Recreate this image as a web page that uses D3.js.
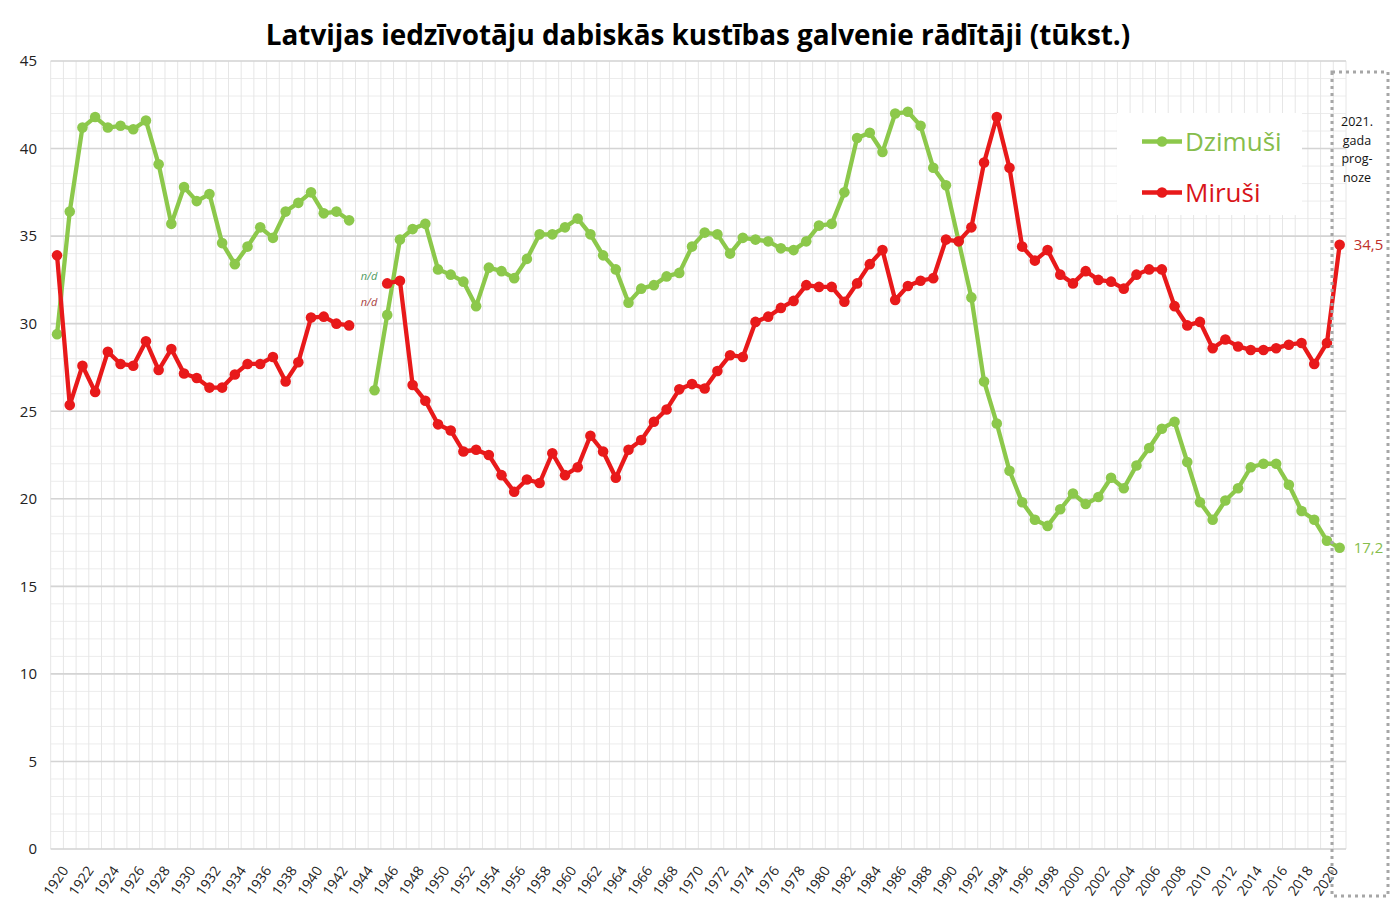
<!DOCTYPE html>
<html>
<head>
<meta charset="utf-8">
<script src="https://cdn.jsdelivr.net/npm/d3@7"></script>
<style>
  body { margin: 0; background: #fff; }
  text { font-family: "Open Sans", "Noto Sans", sans-serif; }
</style>
</head>
<body>
<div class="chart"></div>
<script>
// years 1920 - 2021
var years = d3.range(1920, 2022);

// Dzimuši (tūkst.)
var births = [
  29.4, 36.4, 41.2, 41.8, 41.2, 41.3, 41.1, 41.6, 39.1, 35.7,   // 1920-1929
  37.8, 37.0, 37.4, 34.6, 33.4, 34.4, 35.5, 34.9, 36.4, 36.9,   // 1930-1939
  37.5, 36.3, 36.4, 35.9, null, 26.2, 30.5, 34.8, 35.4, 35.7,   // 1940-1949
  33.1, 32.8, 32.4, 31.0, 33.2, 33.0, 32.6, 33.7, 35.1, 35.1,   // 1950-1959
  35.5, 36.0, 35.1, 33.9, 33.1, 31.2, 32.0, 32.2, 32.7, 32.9,   // 1960-1969
  34.4, 35.2, 35.1, 34.0, 34.9, 34.8, 34.7, 34.3, 34.2, 34.7,   // 1970-1979
  35.6, 35.7, 37.5, 40.6, 40.9, 39.8, 42.0, 42.1, 41.3, 38.9,   // 1980-1989
  37.9, 34.7, 31.5, 26.7, 24.3, 21.6, 19.8, 18.8, 18.45, 19.4,  // 1990-1999
  20.3, 19.7, 20.1, 21.2, 20.6, 21.9, 22.9, 24.0, 24.4, 22.1,   // 2000-2009
  19.8, 18.8, 19.9, 20.6, 21.8, 22.0, 22.0, 20.8, 19.3, 18.8,   // 2010-2019
  17.6, 17.2                                                     // 2020-2021
];

// Miruši (tūkst.)
var deaths = [
  33.9, 25.35, 27.6, 26.1, 28.4, 27.7, 27.6, 29.0, 27.35, 28.55, // 1920-1929
  27.15, 26.9, 26.35, 26.35, 27.1, 27.7, 27.7, 28.1, 26.7, 27.8, // 1930-1939
  30.35, 30.4, 30.0, 29.9, null, null, 32.3, 32.45, 26.5, 25.6,  // 1940-1949
  24.25, 23.9, 22.7, 22.8, 22.5, 21.35, 20.4, 21.1, 20.9, 22.6,  // 1950-1959
  21.35, 21.8, 23.6, 22.7, 21.2, 22.8, 23.35, 24.4, 25.1, 26.25, // 1960-1969
  26.55, 26.3, 27.3, 28.2, 28.1, 30.1, 30.4, 30.9, 31.3, 32.2,   // 1970-1979
  32.1, 32.1, 31.25, 32.3, 33.4, 34.2, 31.35, 32.15, 32.45, 32.6,// 1980-1989
  34.8, 34.7, 35.5, 39.2, 41.8, 38.9, 34.4, 33.6, 34.2, 32.8,    // 1990-1999
  32.3, 33.0, 32.5, 32.4, 32.0, 32.8, 33.1, 33.1, 31.0, 29.9,    // 2000-2009
  30.1, 28.6, 29.1, 28.7, 28.5, 28.5, 28.6, 28.8, 28.9, 27.7,    // 2010-2019
  28.9, 34.5                                                      // 2020-2021
];

var yTicks = [0, 5, 10, 15, 20, 25, 30, 35, 40, 45];
var xTickYears = d3.range(1920, 2021, 2);
var seriesNames = ["Dzimuši", "Miruši"];
var forecastLines = ["2021.", "gada", "prog-", "noze"];

var greenColor = "#8cc84b",
    redColor = "#e8191a";

var width = 1400, height = 907;

var svg = d3.select(".chart")
  .append("svg")
  .attr("width", width)
  .attr("height", height);

var x = d3.scaleLinear()
  .domain([1919.5, 2021.5])
  .range([50.7, 1346]);

var y = d3.scaleLinear()
  .domain([0, 45])
  .range([849, 61]);

// grid: minor horizontal, vertical between categories, then major horizontal
var grid = svg.append("g");
grid.selectAll(".hminor")
  .data(d3.range(0, 46, 1))
  .enter().append("line")
  .attr("x1", x(1919.5)).attr("x2", x(2021.5))
  .attr("y1", d => y(d)).attr("y2", d => y(d))
  .attr("stroke", "#ececec").attr("stroke-width", 1);

grid.selectAll(".vline")
  .data(d3.range(1919.5, 2022, 1))
  .enter().append("line")
  .attr("x1", d => x(d)).attr("x2", d => x(d))
  .attr("y1", y(45)).attr("y2", y(0))
  .attr("stroke", "#e6e6e6").attr("stroke-width", 1);

grid.selectAll(".hmajor")
  .data(yTicks)
  .enter().append("line")
  .attr("x1", x(1919.5)).attr("x2", x(2021.5))
  .attr("y1", d => y(d)).attr("y2", d => y(d))
  .attr("stroke", "#d4d4d4").attr("stroke-width", 1.6);

// y axis labels
var yAxis = svg.append("g")
  .attr("transform", "translate(37,0)")
  .call(d3.axisLeft(y).tickValues(yTicks).tickSize(0).tickPadding(0));
yAxis.select(".domain").remove();
yAxis.selectAll("text")
  .style("font-size", "15px")
  .style("fill", "#222");

// x axis labels, rotated
var xAxis = svg.append("g")
  .attr("transform", "translate(0," + 858 + ")")
  .call(d3.axisBottom(x).tickValues(xTickYears).tickSize(0).tickFormat(d3.format("d")));
xAxis.select(".domain").remove();
xAxis.selectAll("text")
  .attr("text-anchor", "end")
  .attr("dy", "0.35em")
  .attr("transform", "translate(5,8) rotate(-55)")
  .style("font-size", "14px")
  .style("fill", "#222");

// lines + markers
var line = d3.line()
  .defined(d => d.v != null)
  .x(d => x(d.year))
  .y(d => y(d.v));

function drawSeries(values, color) {
  var data = years.map((yr, i) => ({year: yr, v: values[i]}));
  svg.append("path")
    .datum(data)
    .attr("d", line)
    .attr("fill", "none")
    .attr("stroke", color)
    .attr("stroke-width", 4.3)
    .attr("stroke-linejoin", "round");
  svg.append("g").selectAll("circle")
    .data(data.filter(d => d.v != null))
    .enter().append("circle")
    .attr("cx", d => x(d.year))
    .attr("cy", d => y(d.v))
    .attr("r", 5.3)
    .attr("fill", color);
}
drawSeries(births, greenColor);
drawSeries(deaths, redColor);

// n/d notes for missing years
svg.append("text").attr("x", 369).attr("y", 280).attr("text-anchor", "middle")
  .style("font-size", "11px").style("font-style", "italic").style("fill", "#4f9a5f").text("n/d");
svg.append("text").attr("x", 369).attr("y", 306).attr("text-anchor", "middle")
  .style("font-size", "11px").style("font-style", "italic").style("fill", "#a8413f").text("n/d");

// end value labels
var last = years.length - 1;
svg.append("text").attr("x", x(2021) + 14).attr("y", y(deaths[last])).attr("dy", "0.35em")
  .style("font-size", "15px").style("fill", "#c0302a").text(d3.format(".1f")(deaths[last]).replace(".", ","));
svg.append("text").attr("x", x(2021) + 14).attr("y", y(births[last])).attr("dy", "0.35em")
  .style("font-size", "15px").style("fill", "#86bd4c").text(d3.format(".1f")(births[last]).replace(".", ","));

// dotted forecast box
svg.append("rect")
  .attr("x", 1332).attr("y", 72)
  .attr("width", 56).attr("height", 824)
  .attr("fill", "none")
  .attr("stroke", "#a6a6a6")
  .attr("stroke-width", 3)
  .attr("stroke-dasharray", "3,4");

svg.append("g").selectAll("text")
  .data(forecastLines)
  .enter().append("text")
  .attr("x", 1357)
  .attr("y", (d, i) => 122 + i * 18.5)
  .attr("dy", "0.35em")
  .attr("text-anchor", "middle")
  .style("font-size", "12.5px")
  .style("fill", "#111")
  .text(d => d);

// legend
svg.append("rect")
  .attr("x", 1117).attr("y", 113)
  .attr("width", 185).attr("height", 102)
  .attr("fill", "#fff");
var legendColors = [greenColor, redColor];
var legend = svg.selectAll(".legend")
  .data(seriesNames)
  .enter().append("g")
  .attr("transform", (d, i) => "translate(1142," + (141.5 + i * 51) + ")");
legend.append("line")
  .attr("x1", 0).attr("x2", 40)
  .attr("stroke", (d, i) => legendColors[i])
  .attr("stroke-width", 4.3);
legend.append("circle")
  .attr("cx", 20).attr("r", 5.3)
  .attr("fill", (d, i) => legendColors[i]);
legend.append("text")
  .attr("x", 43).attr("dy", "0.35em")
  .style("font-size", "26px")
  .style("fill", (d, i) => legendColors[i] == redColor ? "#d8141a" : "#86bd4c")
  .text(d => d);

// title
var title = svg.append("text")
  .attr("x", 698).attr("y", 35)
  .attr("dy", "0.35em")
  .attr("text-anchor", "middle")
  .style("font-size", "28px")
  .style("font-weight", "bold")
  .style("fill", "#000")
  .text("Latvijas iedzīvotāju dabiskās kustības galvenie rādītāji (tūkst.)");
// shrink to the width of the original heading
var tw = title.node().getComputedTextLength();
if (tw > 865) title.style("font-size", (28 * 865 / tw) + "px");
</script>
</body>
</html>
